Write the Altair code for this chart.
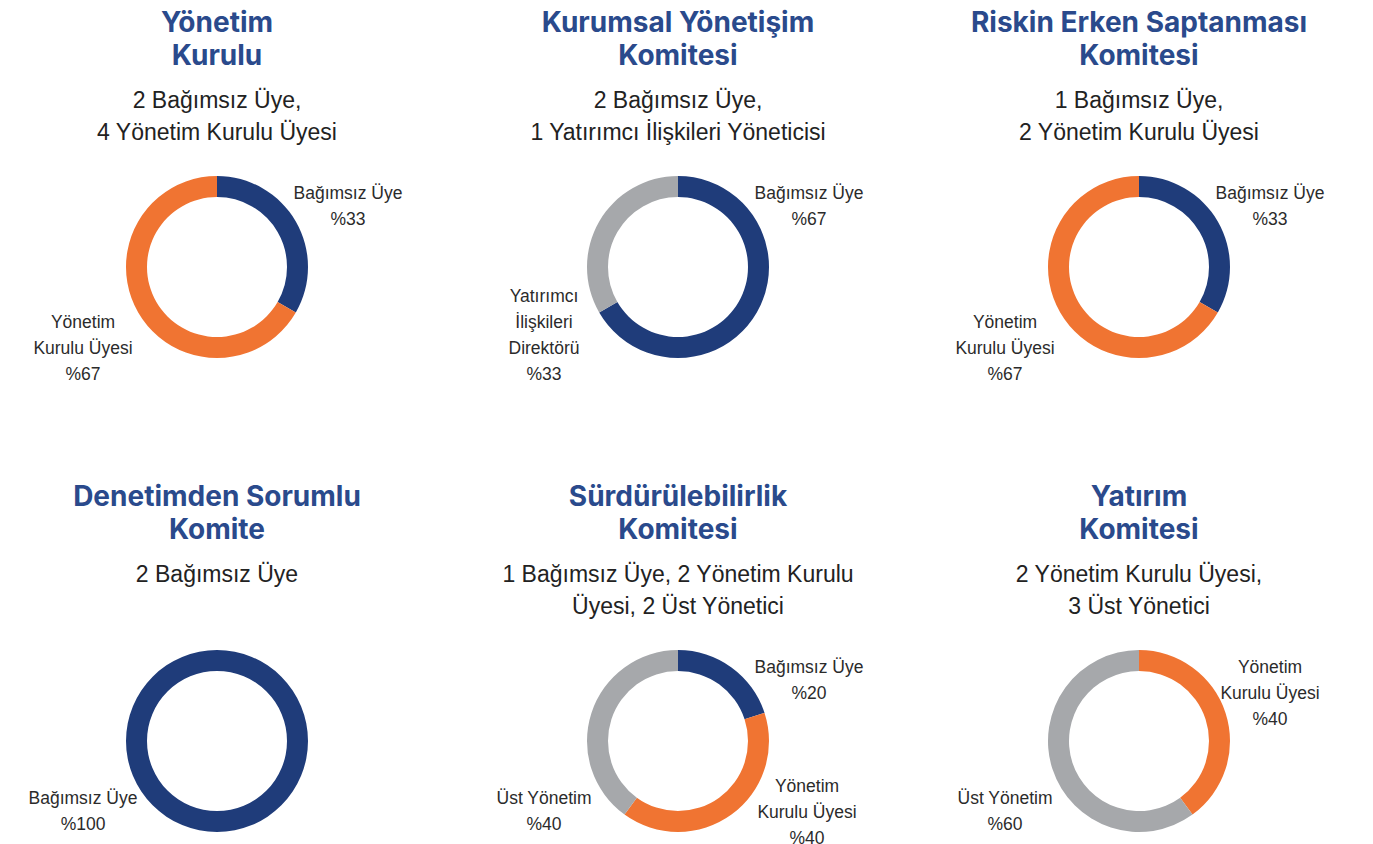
import altair as alt
import pandas as pd

titles = [
    ["Yönetim", "Kurulu"],
    ["Kurumsal Yönetişim", "Komitesi"],
    ["Riskin Erken Saptanması", "Komitesi"],
    ["Denetimden Sorumlu", "Komite"],
    ["Sürdürülebilirlik", "Komitesi"],
    ["Yatırım", "Komitesi"],
]
subtitles = [
    ["2 Bağımsız Üye,", "4 Yönetim Kurulu Üyesi"],
    ["2 Bağımsız Üye,", "1 Yatırımcı İlişkileri Yöneticisi"],
    ["1 Bağımsız Üye,", "2 Yönetim Kurulu Üyesi"],
    ["2 Bağımsız Üye", " "],
    ["1 Bağımsız Üye, 2 Yönetim Kurulu", "Üyesi, 2 Üst Yönetici"],
    ["2 Yönetim Kurulu Üyesi,", "3 Üst Yönetici"],
]
categories = [
    ["Bağımsız Üye", "Yönetim Kurulu Üyesi"],
    ["Bağımsız Üye", "Yatırımcı İlişkileri Direktörü"],
    ["Bağımsız Üye", "Yönetim Kurulu Üyesi"],
    ["Bağımsız Üye"],
    ["Bağımsız Üye", "Yönetim Kurulu Üyesi", "Üst Yönetim"],
    ["Yönetim Kurulu Üyesi", "Üst Yönetim"],
]
counts = [[2, 4], [2, 1], [1, 2], [2], [1, 2, 2], [2, 3]]

display_names = {
    "Bağımsız Üye": "Bağımsız Üye",
    "Yönetim Kurulu Üyesi": "Yönetim\nKurulu Üyesi",
    "Yatırımcı İlişkileri Direktörü": "Yatırımcı\nİlişkileri\nDirektörü",
    "Üst Yönetim": "Üst Yönetim",
}
color_domain = ["Bağımsız Üye", "Yönetim Kurulu Üyesi",
                "Yatırımcı İlişkileri Direktörü", "Üst Yönetim"]
color_range = ["#1f3c7a", "#f07432", "#a6a8ab", "#a6a8ab"]

W, H = 418, 240
LH = 26  # label line height


def label_anchor(slot, nlines):
    # returns (dx, dy of first line centre), dy down-positive
    if slot == "ur":
        return 131, -73
    if slot == "lr":
        return 129, 46
    return -134, min(58, 108 - (nlines - 1) * LH)


LABEL_FONT = "Liberation Sans"
TITLE_FONT = "Inter"
SUB_FONT = "Liberation Sans"


def panel(i):
    cats, vals = categories[i], counts[i]
    n, tot = len(cats), sum(vals)
    rows = []
    for j, (c, v) in enumerate(zip(cats, vals)):
        if n == 1:
            slot = "ll"
        elif j == 0:
            slot = "ur"
        elif j == n - 1:
            slot = "ll"
        else:
            slot = "lr"
        label = f"{display_names[c]}\n%{round(100 * v / tot)}"
        dx, dy = label_anchor(slot, label.count("\n") + 1)
        rows.append(dict(cat=c, val=v, idx=j, lx=dx, ly=-dy, label=label))
    df = pd.DataFrame(rows)
    base = alt.Chart(df)
    arc = base.mark_arc(innerRadius=70, outerRadius=91).encode(
        theta=alt.Theta("val:Q", stack=True),
        color=alt.Color("cat:N", scale=alt.Scale(domain=color_domain, range=color_range), legend=None),
        order=alt.Order("idx:Q"),
    )
    xs = alt.X("lx:Q", scale=alt.Scale(domain=[-W / 2, W / 2], nice=False, zero=False), axis=None)
    ys = alt.Y("ly:Q", scale=alt.Scale(domain=[-H / 2, H / 2], nice=False, zero=False), axis=None)
    txt = base.mark_text(baseline="middle", lineBreak="\n", font=LABEL_FONT, fontSize=17.5,
                         lineHeight=LH, color="#2b2b2b", align="center").encode(
        x=xs, y=ys, text="label:N")
    return alt.layer(arc, txt).properties(
        width=W, height=H,
        title=alt.TitleParams(
            text=titles[i], subtitle=subtitles[i],
            font=TITLE_FONT, fontSize=28, fontWeight="bold", color="#2a4a8c",
            lineHeight=33,
            subtitleFont=SUB_FONT, subtitleFontSize=23, subtitleColor="#222222",
            subtitleLineHeight=32, subtitlePadding=19,
            anchor="middle", offset=2,
        ),
    )


row1 = alt.hconcat(panel(0), panel(1), panel(2), spacing=43)
row2 = alt.hconcat(panel(3), panel(4), panel(5), spacing=43)
chart = alt.vconcat(row1, row2, spacing=97).properties(
    padding={"left": 0, "top": 2, "right": 0, "bottom": 0}
).configure_view(stroke=None)

chart.save("out.html", embed_options={"renderer": "svg", "actions": False})
